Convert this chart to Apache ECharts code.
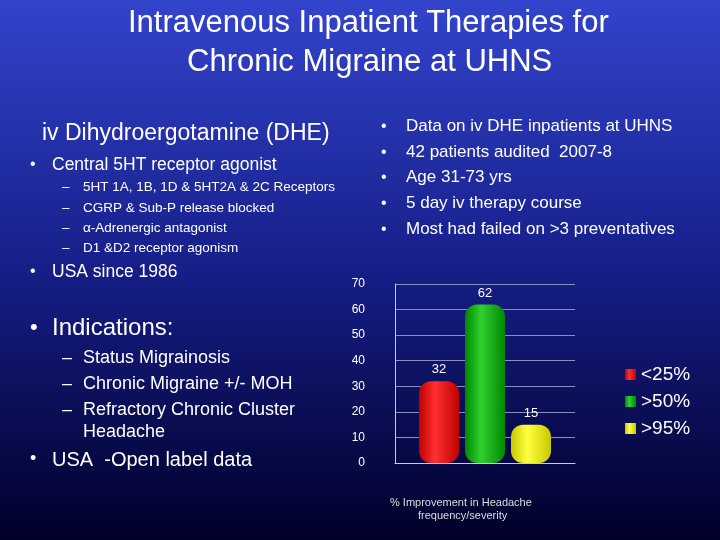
<!DOCTYPE html>
<html>
<head>
<meta charset="utf-8">
<script src="https://cdn.jsdelivr.net/npm/echarts@6/dist/echarts.min.js"></script>
<style>html,body{margin:0;padding:0;}#main{width:720px;height:540px;}</style>
</head>
<body>
<div id="main"></div>
<script>
var categories = ['<25%', '>50%', '>95%'];
var values = [32, 62, 15];
var barColors = [['#ff3030', '#c00000'], ['#30d030', '#008800'], ['#ffff40', '#c8c800']];

var font = 'Liberation Sans, Arial, sans-serif';

function txt(x, y, s, size, align) {
    return {
        type: 'text', left: x, top: y,
        style: { text: s, fill: '#fff', font: size + 'px ' + font, textAlign: align || 'left' }
    };
}

var texts = [
    { type: 'text', left: 128, top: 8, style: { text: 'Intravenous Inpatient Therapies for', fill: '#fff', font: '31px ' + font } },
    { type: 'text', left: 187, top: 47, style: { text: 'Chronic Migraine at UHNS', fill: '#fff', font: '31px ' + font } },
    txt(42, 122, 'iv Dihydroergotamine (DHE)', 23),
    txt(30, 157, '•', 16), txt(52, 156, 'Central 5HT receptor agonist', 17.5),
    txt(62, 180, '–', 13.5), txt(83, 180, '5HT 1A, 1B, 1D & 5HT2A & 2C Receptors', 13.5),
    txt(62, 201, '–', 13.5), txt(83, 201, 'CGRP & Sub-P release blocked', 13.5),
    txt(62, 221, '–', 13.5), txt(83, 221, 'α-Adrenergic antagonist', 13.5),
    txt(62, 241, '–', 13.5), txt(83, 241, 'D1 &D2 receptor agonism', 13.5),
    txt(30, 264, '•', 16), txt(52, 263, 'USA since 1986', 17.5),
    txt(30, 317, '•', 22), txt(52, 316, 'Indications:', 24),
    txt(62, 349, '–', 18), txt(83, 349, 'Status Migrainosis', 18),
    txt(62, 375, '–', 18), txt(83, 375, 'Chronic Migraine +/- MOH', 18),
    txt(62, 401, '–', 18), txt(83, 401, 'Refractory Chronic Cluster', 18),
    txt(83, 423, 'Headache', 18),
    txt(30, 450, '•', 18), txt(52, 450, 'USA  -Open label data', 20),
    txt(381, 119, '•', 16), txt(406, 118, 'Data on iv DHE inpatients at UHNS', 17),
    txt(381, 145, '•', 16), txt(406, 144, '42 patients audited  2007-8', 17),
    txt(381, 170, '•', 16), txt(406, 169, 'Age 31-73 yrs', 17),
    txt(381, 196, '•', 16), txt(406, 195, '5 day iv therapy course', 17),
    txt(381, 222, '•', 16), txt(406, 221, 'Most had failed on >3 preventatives', 17),
    { type: 'text', left: 390, top: 497, style: { text: '% Improvement in Headache', fill: '#ddd', font: '11px ' + font } },
    { type: 'text', left: 418, top: 510, style: { text: 'frequency/severity', fill: '#ddd', font: '11px ' + font } }
];

var chart = echarts.init(document.getElementById('main'));
chart.setOption({
    backgroundColor: new echarts.graphic.LinearGradient(0, 0, 0, 1, [
        { offset: 0, color: '#3344cc' },
        { offset: 0.5, color: '#161e88' },
        { offset: 1, color: '#000028' }
    ]),
    graphic: texts,
    legend: {
        left: 620, top: 360, orient: 'vertical', icon: 'rect', itemWidth: 11, itemHeight: 11, itemGap: 8,
        textStyle: { color: '#fff', fontSize: 19, fontFamily: font },
        data: categories
    },
    grid: { left: 395, top: 284, width: 180, height: 179 },
    xAxis: {
        type: 'category', data: [''],
        axisLine: { lineStyle: { color: '#ccc' } }, axisTick: { show: false }, axisLabel: { show: false }
    },
    yAxis: {
        type: 'value', min: 0, max: 70, interval: 10,
        axisLabel: { color: '#fff', fontSize: 12, fontFamily: font, margin: 30 },
        axisLine: { show: true, lineStyle: { color: '#ccc' } },
        splitLine: { lineStyle: { color: '#8890c0' } }
    },
    series: categories.map(function (c, i) {
        return {
            name: c, type: 'bar', barWidth: 40, barGap: '15%',
            data: [values[i]],
            itemStyle: {
                color: new echarts.graphic.LinearGradient(0, 0, 1, 0, [
                    { offset: 0, color: barColors[i][1] },
                    { offset: 0.4, color: barColors[i][0] },
                    { offset: 1, color: barColors[i][1] }
                ]),
                borderRadius: [12, 12, 12, 12]
            },
            label: { show: true, position: 'top', color: '#fff', fontSize: 13, fontFamily: font }
        };
    }),
    color: ['#ff0000', '#00b000', '#ffff00']
});
</script>
</body>
</html>
